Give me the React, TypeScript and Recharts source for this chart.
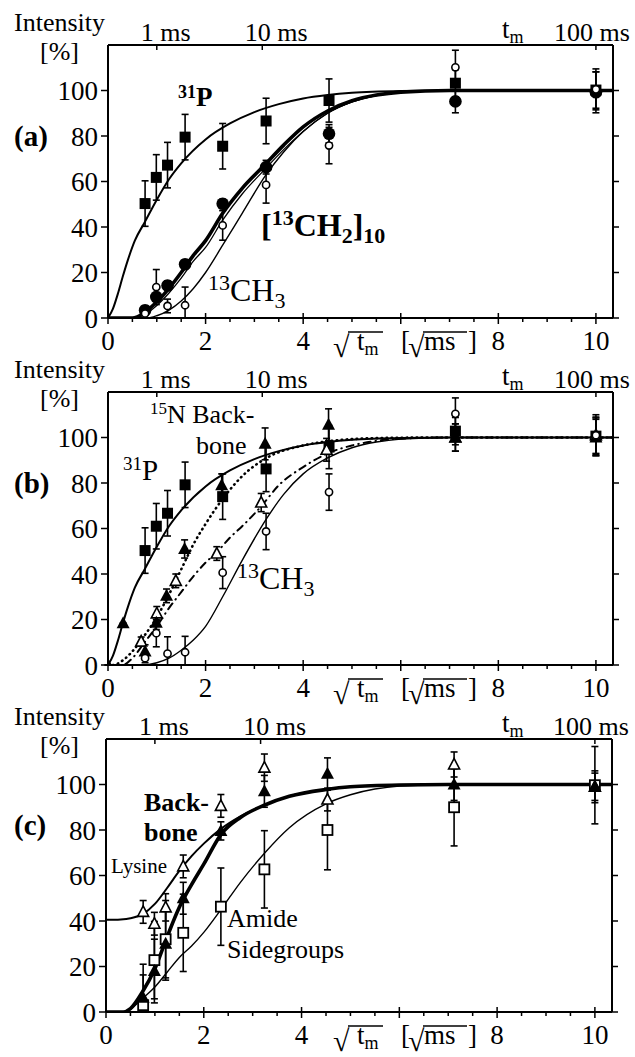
import React from 'react'
import { ComposedChart, Line, Scatter, ErrorBar, XAxis, YAxis } from 'recharts'

const FONT = "'Liberation Serif', 'Times New Roman', serif"
const INK = '#000'

// measured mixing times, as sqrt(t_m) in sqrt(ms)
const ROOT_TM = [0.76, 0.99, 1.22, 1.58, 2.35, 3.24, 4.53, 7.12, 10.0]

const X_TICKS = [0, 0.5, 1, 1.5, 2, 2.5, 3, 3.5, 4, 4.5, 5, 5.5, 6, 6.5, 7, 7.5, 8, 8.5, 9, 9.5, 10]
const X_LABELS: Record<number, string> = { 0: '0', 2: '2', 4: '4', 8: '8', 10: '10' }
const Y_TICKS = [0, 20, 40, 60, 80, 100]
const TOP_TICKS = [1, 3.162, 10]
const TOP_LABELS = ['1 ms', '10 ms', '100 ms']

// ---- panel (a) ----
const A_P31_Y = [50.3, 61.8, 67.2, 79.5, 75.5, 86.6, 95.6, 103.2, 100.2]
const A_P31_ERR = [10, 10, 10, 10, 10, 10, 9.5, 6, 8]
const A_CH2_Y = [3.4, 9.2, 14.3, 23.6, 50.2, 66.3, 81, 95.2, 99.2]
const A_CH2_ERR = [2, 2, 2, 2, 2, 3, 4, 5, 9]
const A_CH3_Y = [2, 13.6, 5.3, 5.6, 40.7, 58.5, 75.8, 110.2, 100.5]
const A_CH3_ERR = [2, 7.7, 3, 8, 6.5, 8, 8, 7.5, 9]

const P31_FIT_X = [0, 0.1, 0.2, 0.3, 0.4, 0.55, 0.75, 1.0, 1.25, 1.5, 2.0, 2.5, 3.0, 3.5, 4.0, 4.5, 5.0, 6.0, 7.0, 10.35]
const P31_FIT_Y = [0, 4, 10.5, 18, 25, 34, 42, 52, 61, 68, 78.5, 85.5, 90.5, 94, 96.5, 98, 99, 99.8, 100, 100]

const A_CH2_FIT_X = [0, 0.5, 0.6, 0.75, 1.0, 1.25, 1.5, 1.75, 2.0, 2.35, 2.75, 3.2, 3.6, 4.0, 4.5, 5.0, 5.5, 6.0, 7.0, 10.35]
const A_CH2_FIT_Y = [0, 0, 0.5, 2.5, 7, 13, 20, 27.5, 34, 46, 57, 67, 76, 84, 91, 95.5, 98, 99.3, 100, 100]
const A_CH2B_FIT_Y = [0, 0, 0.2, 1.5, 5.5, 11, 17.5, 25, 31, 43, 54.5, 65, 74, 82, 90, 95, 97.8, 99.2, 100, 100]

const A_CH3_FIT_X = [0, 0.8, 1.0, 1.25, 1.5, 1.75, 2.0, 2.35, 2.75, 3.24, 3.6, 4.0, 4.5, 5.0, 5.5, 6.0, 7.0, 10.35]
const A_CH3_FIT_Y = [0, 0, 1, 3.5, 7.5, 13, 20, 32, 46, 63, 73, 82, 90, 95, 97.8, 99.2, 100, 100]

// ---- panel (b) ----
const B_P31_Y = [50.3, 61, 66.7, 79.2, 74, 86.2, 95.8, 102.8, 100.6]
const B_P31_ERR = [10, 10, 10, 10, 10, 10, 9.5, 6, 8]
const B_N15_X = [0, 0.31, 0.76, 0.99, 1.2, 1.57, 2.33, 3.22, 4.52, 7.12, 10]
const B_N15_Y = [0, 18.3, 5.9, 18.6, 30.4, 51, 79, 97.2, 105.6, 100, 100]
const B_N15_ERR = [0, 0, 3, 3, 3, 4, 5, 7, 7, 6, 8]
const B_OPENTRI_X = [0.68, 1.0, 1.39, 2.23, 3.14, 4.48, 7.12, 10]
const B_OPENTRI_Y = [10.3, 22.7, 37, 49, 71.4, 94.6, 100, 101]
const B_OPENTRI_ERR = [2, 3, 3, 3, 4, 5, 6, 8]
const B_CH3_Y = [3, 14, 5, 5.6, 40.6, 58.7, 76, 110.4, 101]
const B_CH3_ERR = [2, 6, 7.4, 7, 7, 8, 8, 7, 9]

const B_DOT_FIT_X = [0, 0.1, 0.3, 0.5, 0.75, 1.0, 1.25, 1.5, 1.75, 2.0, 2.35, 2.75, 3.25, 4.0, 4.5, 5.0, 6.0, 7.0, 10.35]
const B_DOT_FIT_Y = [0, 0, 2, 6, 13, 21, 31, 42, 53, 62, 73, 83, 91, 96.5, 98.3, 99.3, 99.9, 100, 100]
const B_DASH_FIT_X = [0, 0.3, 0.5, 0.75, 1.0, 1.25, 1.5, 1.75, 2.0, 2.25, 2.5, 2.75, 3.15, 3.5, 4.0, 4.5, 5.0, 5.5, 6.0, 7.0, 10.35]
const B_DASH_FIT_Y = [0, 0, 3, 10, 17, 25, 32, 39, 45, 50, 56, 61, 70, 79, 87, 93, 96.5, 98.5, 99.5, 100, 100]
const B_CH3_FIT_X = [0, 0.7, 1.0, 1.25, 1.5, 1.75, 2.0, 2.35, 2.75, 3.24, 3.6, 4.0, 4.5, 5.0, 5.5, 6.0, 7.0, 10.35]
const B_CH3_FIT_Y = [0, 0, 1, 3, 6.5, 11, 17, 30, 46, 64, 75, 84, 91, 95.5, 98, 99.3, 100, 100]

// ---- panel (c) ----
const C_BACK_Y = [6.3, 18, 30, 50, 79.6, 97, 104.7, 100, 99]
const C_BACK_ERR = [10, 14, 16, 7, 4, 7, 7, 7, 7]
const C_LYS_Y = [44, 38.8, 46, 64, 90.6, 107.4, 93.4, 108.8, 99]
const C_LYS_ERR = [5, 5, 6, 5, 5, 6, 5, 5.5, 6]
const C_AMIDE_Y = [3, 22.8, 32, 34.8, 46.3, 62.7, 80, 90, 99.7]
const C_AMIDE_ERR = [18, 17, 17, 17, 17, 17, 17.5, 17, 17]

const C_LYS_FIT_X = [0, 0.3, 0.5, 0.75, 1.0, 1.25, 1.5, 1.75, 2.0, 2.35, 2.75, 3.25, 3.75, 4.5, 5.0, 6.0, 7.0, 10.35]
const C_LYS_FIT_Y = [40.5, 40.7, 41.2, 43, 47.5, 54.5, 62, 68.5, 74, 80.5, 86, 91, 94.8, 97.8, 99, 99.8, 100, 100]
const C_BACK_FIT_X = [0, 0.35, 0.5, 0.75, 1.0, 1.25, 1.5, 1.75, 2.0, 2.35, 2.75, 3.25, 3.75, 4.5, 5.0, 6.0, 7.0, 10.35]
const C_BACK_FIT_Y = [0, 0, 1.5, 9, 19, 33, 46, 56, 65, 78, 85.5, 91, 94.8, 97.8, 99, 99.8, 100, 100]
const C_AMIDE_FIT_X = [0, 0.4, 0.6, 0.75, 1.0, 1.25, 1.5, 1.75, 2.0, 2.35, 2.75, 3.25, 3.75, 4.5, 5.0, 5.5, 6.0, 7.0, 10.35]
const C_AMIDE_FIT_Y = [0, 0, 3, 6, 11, 17.5, 24, 29, 35, 45, 57, 70, 81, 91.5, 95.5, 98, 99.3, 100, 100]

type Pt = { x: number; y: number; e?: [number, number] }
// error bars are cut off at the x axis, as in the printed figure
const pts = (xs: number[], ys: number[], es?: number[]): Pt[] =>
  xs.map((x, i) => ({ x, y: ys[i], e: es ? [Math.min(es[i], ys[i]), es[i]] : undefined }))

// ---- symbols ----
const filledSquare = (p: any) => <rect x={p.cx - 5.5} y={p.cy - 5.5} width={11} height={11} fill={INK} />
const openSquare = (p: any) => (
  <rect x={p.cx - 5} y={p.cy - 5} width={10} height={10} fill="#fff" stroke={INK} strokeWidth={1.8} />
)
const filledCircle = (p: any) => <circle cx={p.cx} cy={p.cy} r={6.3} fill={INK} />
const openCircle = (p: any) => <circle cx={p.cx} cy={p.cy} r={3.6} fill="#fff" stroke={INK} strokeWidth={1.6} />
const filledTri = (p: any) => (
  <polygon points={`${p.cx},${p.cy - 7} ${p.cx + 6.5},${p.cy + 5} ${p.cx - 6.5},${p.cy + 5}`} fill={INK} />
)
const openTri = (p: any) => (
  <polygon
    points={`${p.cx},${p.cy - 6} ${p.cx + 5.5},${p.cy + 4.5} ${p.cx - 5.5},${p.cy + 4.5}`}
    fill="#fff"
    stroke={INK}
    strokeWidth={1.6}
  />
)

const AX = { xAxisId: 'b', yAxisId: 'l' }

function fitLine(key: string, data: Pt[], width: number, dash?: string) {
  return (
    <Line
      key={key}
      {...AX}
      data={data}
      dataKey="y"
      type="monotone"
      stroke={INK}
      strokeWidth={width}
      strokeDasharray={dash}
      strokeLinecap="round"
      dot={false}
      activeDot={false}
      isAnimationActive={false}
    />
  )
}

function points(key: string, data: Pt[], shape: (p: any) => React.ReactElement) {
  return (
    <Scatter key={key} {...AX} data={data} dataKey="y" shape={shape} isAnimationActive={false}>
      <ErrorBar dataKey="e" direction="y" width={3.5} stroke={INK} strokeWidth={1.6} isAnimationActive={false} />
    </Scatter>
  )
}

const txt = { fontFamily: FONT, fill: INK }

const BottomTick = (p: any) => {
  const v = p.payload.value
  const major = v % 2 === 0
  return (
    <g>
      <line x1={p.x} x2={p.x} y1={p.y - (major ? 5 : 0)} y2={p.y + (major ? 6 : 4)} stroke={INK} strokeWidth={1.5} />
      {X_LABELS[v] && (
        <text x={p.x} y={p.y + 32} textAnchor="middle" fontSize={27} {...txt}>
          {X_LABELS[v]}
        </text>
      )}
    </g>
  )
}

const TOP_DX = [9, 14, -4]
const TopTick = (p: any) => {
  const i = TOP_TICKS.indexOf(p.payload.value)
  return (
    <g>
      <line x1={p.x} x2={p.x} y1={p.y} y2={p.y + 5} stroke={INK} strokeWidth={1.5} />
      <text x={p.x + TOP_DX[i]} y={p.y - 4} textAnchor="middle" fontSize={26} {...txt}>
        {TOP_LABELS[i]}
      </text>
    </g>
  )
}

const RightTick = (p: any) => <line x1={p.x} x2={p.x + 6} y1={p.y} y2={p.y} stroke={INK} strokeWidth={1.5} />

function SqrtLabel() {
  return (
    <g {...txt}>
      <text x={333} y={357} fontSize={30} {...txt}>√</text>
      <line x1={348} x2={383} y1={332} y2={332} stroke={INK} strokeWidth={1.5} />
      <text x={357} y={350} fontSize={27} {...txt}>
        t<tspan fontSize={18} dy={5}>m</tspan>
      </text>
      <text x={401} y={350} fontSize={27} {...txt}>[</text>
      <text x={408} y={357} fontSize={30} {...txt}>√</text>
      <line x1={423} x2={467} y1={332} y2={332} stroke={INK} strokeWidth={1.5} />
      <text x={424} y={350} fontSize={27} {...txt}>ms</text>
      <text x={468} y={350} fontSize={27} {...txt}>]</text>
    </g>
  )
}

function FrameNotes({ tag, tagY }: { tag: string; tagY: number }) {
  return (
    <g>
      <text x={14} y={31} fontSize={26} {...txt}>Intensity</text>
      <text x={40} y={60} fontSize={26} {...txt}>[%]</text>
      <text x={502} y={38} fontSize={27} {...txt}>
        t<tspan fontSize={18} dy={5}>m</tspan>
      </text>
      <text x={14} y={tagY} fontSize={29} fontWeight="bold" {...txt}>{tag}</text>
      <SqrtLabel />
    </g>
  )
}

function Panel({ left, children, notes }: { left: number; children: React.ReactNode; notes: React.ReactNode }) {
  const right = 635 - left - (left < 108 ? 506 : 505)
  return (
    <div style={{ position: 'relative', width: 635, height: 347 }}>
      <div style={{ position: 'absolute', left: 0, top: 0 }}>
        <ComposedChart width={635} height={365} margin={{ top: 0, right: 0, bottom: 18, left: 0 }}>
          <XAxis
            xAxisId="b"
            dataKey="x"
            type="number"
            orientation="bottom"
            domain={[0, 10.35]}
            ticks={X_TICKS}
            interval={0}
            height={29}
            tickSize={0}
            tickMargin={0}
            tickLine={false}
            axisLine={{ stroke: INK, strokeWidth: 2 }}
            tick={BottomTick}
            allowDataOverflow
          />
          <XAxis
            xAxisId="t"
            dataKey="x"
            type="number"
            orientation="top"
            domain={[0, 10.35]}
            ticks={TOP_TICKS}
            interval={0}
            height={45}
            tickSize={0}
            tickMargin={0}
            tickLine={false}
            axisLine={{ stroke: INK, strokeWidth: 2 }}
            tick={TopTick}
            allowDataOverflow
          />
          <YAxis
            yAxisId="l"
            type="number"
            domain={[0, 120]}
            ticks={Y_TICKS}
            interval={0}
            width={left}
            tickSize={7}
            tickMargin={3}
            tickLine={{ stroke: INK, strokeWidth: 1.5 }}
            axisLine={{ stroke: INK, strokeWidth: 2 }}
            tick={{ fontSize: 27, fontFamily: FONT, fill: INK }}
            allowDataOverflow
          />
          <YAxis
            yAxisId="r"
            type="number"
            orientation="right"
            domain={[0, 120]}
            ticks={Y_TICKS}
            interval={0}
            width={right}
            tickSize={0}
            tickMargin={0}
            tickLine={false}
            axisLine={{ stroke: INK, strokeWidth: 2 }}
            tick={RightTick}
            allowDataOverflow
          />
          {children}
        </ComposedChart>
      </div>
      <svg
        width={635}
        height={347}
        style={{ position: 'absolute', left: 0, top: 0, overflow: 'visible', pointerEvents: 'none' }}
      >
        {notes}
      </svg>
    </div>
  )
}

export default function App() {
  return (
    <div style={{ position: 'absolute', left: 0, top: 0, width: 635, height: 1057, background: '#fff' }}>
      <Panel
        left={108}
        notes={
          <g>
            <FrameNotes tag="(a)" tagY={146} />
            <text x={178} y={106} fontSize={27} fontWeight="bold" {...txt}>
              <tspan fontSize={18} dy={-8}>31</tspan>
              <tspan dy={8}>P</tspan>
            </text>
            <text x={261} y={236} fontSize={32} fontWeight="bold" {...txt}>
              [<tspan fontSize={22} dy={-11}>13</tspan>
              <tspan dy={11}>CH</tspan>
              <tspan fontSize={22} dy={7}>2</tspan>
              <tspan dy={-7}>]</tspan>
              <tspan fontSize={22} dy={7}>10</tspan>
            </text>
            <text x={208} y={301} fontSize={32} {...txt}>
              <tspan fontSize={22} dy={-11}>13</tspan>
              <tspan dy={11}>CH</tspan>
              <tspan fontSize={22} dy={7}>3</tspan>
            </text>
          </g>
        }
      >
        {fitLine('a-p31', pts(P31_FIT_X, P31_FIT_Y), 2)}
        {fitLine('a-ch2', pts(A_CH2_FIT_X, A_CH2_FIT_Y), 3.6)}
        {fitLine('a-ch2b', pts(A_CH2_FIT_X, A_CH2B_FIT_Y), 1.3)}
        {fitLine('a-ch3', pts(A_CH3_FIT_X, A_CH3_FIT_Y), 1.4)}
        {points('a-p31-pts', pts(ROOT_TM, A_P31_Y, A_P31_ERR), filledSquare)}
        {points('a-ch2-pts', pts(ROOT_TM, A_CH2_Y, A_CH2_ERR), filledCircle)}
        {points('a-ch3-pts', pts(ROOT_TM, A_CH3_Y, A_CH3_ERR), openCircle)}
      </Panel>

      <Panel
        left={108}
        notes={
          <g>
            <FrameNotes tag="(b)" tagY={146} />
            <text x={150} y={76} fontSize={26} {...txt}>
              <tspan fontSize={17} dy={-9}>15</tspan>
              <tspan dy={9}>N Back-</tspan>
            </text>
            <text x={196} y={107} fontSize={26} {...txt}>bone</text>
            <text x={123} y={133} fontSize={29} {...txt}>
              <tspan fontSize={19} dy={-10}>31</tspan>
              <tspan dy={10}>P</tspan>
            </text>
            <text x={237} y={242} fontSize={32} {...txt}>
              <tspan fontSize={22} dy={-11}>13</tspan>
              <tspan dy={11}>CH</tspan>
              <tspan fontSize={22} dy={7}>3</tspan>
            </text>
          </g>
        }
      >
        {fitLine('b-p31', pts(P31_FIT_X, P31_FIT_Y), 2)}
        {fitLine('b-dot', pts(B_DOT_FIT_X, B_DOT_FIT_Y), 2.6, '0.5 4.5')}
        {fitLine('b-dash', pts(B_DASH_FIT_X, B_DASH_FIT_Y), 2, '7 5 0.5 5')}
        {fitLine('b-ch3', pts(B_CH3_FIT_X, B_CH3_FIT_Y), 1.4)}
        {points('b-p31-pts', pts(ROOT_TM, B_P31_Y, B_P31_ERR), filledSquare)}
        {points('b-otri-pts', pts(B_OPENTRI_X, B_OPENTRI_Y, B_OPENTRI_ERR), openTri)}
        {points('b-n15-pts', pts(B_N15_X, B_N15_Y, B_N15_ERR), filledTri)}
        {points('b-ch3-pts', pts(ROOT_TM, B_CH3_Y, B_CH3_ERR), openCircle)}
      </Panel>

      <Panel
        left={106}
        notes={
          <g>
            <FrameNotes tag="(c)" tagY={141} />
            <text x={144} y={117} fontSize={26} fontWeight="bold" {...txt}>Back-</text>
            <text x={144} y={147} fontSize={26} fontWeight="bold" {...txt}>bone</text>
            <text x={111} y={179} fontSize={21} {...txt}>Lysine</text>
            <text x={227} y={233} fontSize={26} {...txt}>Amide</text>
            <text x={227} y={264} fontSize={26} {...txt}>Sidegroups</text>
          </g>
        }
      >
        {fitLine('c-lys', pts(C_LYS_FIT_X, C_LYS_FIT_Y), 2)}
        {fitLine('c-amide', pts(C_AMIDE_FIT_X, C_AMIDE_FIT_Y), 1.4)}
        {fitLine('c-back', pts(C_BACK_FIT_X, C_BACK_FIT_Y), 3.6)}
        {points('c-amide-pts', pts(ROOT_TM, C_AMIDE_Y, C_AMIDE_ERR), openSquare)}
        {points('c-lys-pts', pts(ROOT_TM, C_LYS_Y, C_LYS_ERR), openTri)}
        {points('c-back-pts', pts(ROOT_TM, C_BACK_Y, C_BACK_ERR), filledTri)}
      </Panel>
    </div>
  )
}
